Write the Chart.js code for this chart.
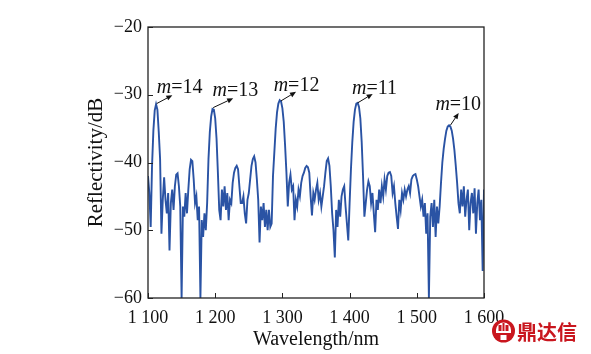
<!DOCTYPE html>
<html><head><meta charset="utf-8">
<script src="https://cdn.jsdelivr.net/npm/chart.js@4.4.0/dist/chart.umd.min.js"></script>
<style>html,body{margin:0;padding:0;background:#fff;}canvas{display:block;}</style>
</head><body>
<canvas id="c" width="591" height="354"></canvas>
<script>
// Wavelength sampling (nm)
const wavelengths = [
1100,1102,1104,1106,1108,1110,1112,1114,1116,1118,
1120,1122,1124,1126,1128,1130,1132,1134,1136,1138,
1140,1142,1144,1146,1148,1150,1152,1154,1156,1158,
1160,1162,1164,1166,1168,1170,1172,1174,1176,1178,
1180,1182,1184,1186,1188,1190,1192,1194,1196,1198,
1200,1202,1204,1206,1208,1210,1212,1214,1216,1218,
1220,1222,1224,1226,1228,1230,1232,1234,1236,1238,
1240,1242,1244,1246,1248,1250,1252,1254,1256,1258,
1260,1262,1264,1266,1268,1270,1272,1274,1276,1278,
1280,1282,1284,1286,1288,1290,1292,1294,1296,1298,
1300,1302,1304,1306,1308,1310,1312,1314,1316,1318,
1320,1322,1324,1326,1328,1330,1332,1334,1336,1338,
1340,1342,1344,1346,1348,1350,1352,1354,1356,1358,
1360,1362,1364,1366,1368,1370,1372,1374,1376,1378,
1380,1382,1384,1386,1388,1390,1392,1394,1396,1398,
1400,1402,1404,1406,1408,1410,1412,1414,1416,1418,
1420,1422,1424,1426,1428,1430,1432,1434,1436,1438,
1440,1442,1444,1446,1448,1450,1452,1454,1456,1458,
1460,1462,1464,1466,1468,1470,1472,1474,1476,1478,
1480,1482,1484,1486,1488,1490,1492,1494,1496,1498,
1500,1502,1504,1506,1508,1510,1512,1514,1516,1518,
1520,1522,1524,1526,1528,1530,1532,1534,1536,1538,
1540,1542,1544,1546,1548,1550,1552,1554,1556,1558,
1560,1562,1564,1566,1568,1570,1572,1574,1576,1578,
1580,1582,1584,1586,1588,1590,1592,1594,1596,1598,
1600];
// Reflectivity (dB)
const reflectivity = [
-42.0,-44.5,-49.5,-40.5,-35.3,-32.3,-31.4,-32.2,-35.5,-39.5,
-50.5,-45.5,-42.2,-45.5,-47.5,-44.5,-53.0,-46.0,-44.0,-47.0,
-43.5,-41.8,-41.6,-43.5,-46.5,-60.0,-46.5,-48.0,-44.5,-47.5,
-44.0,-41.0,-39.6,-39.8,-42.5,-46.0,-45.0,-48.5,-46.5,-60.0,
-48.5,-51.0,-47.5,-50.0,-46.0,-39.5,-35.5,-33.2,-32.1,-32.2,
-33.5,-36.5,-41.5,-47.0,-48.5,-44.0,-46.5,-43.5,-47.0,-44.5,
-48.5,-45.5,-46.0,-43.0,-41.5,-40.8,-40.5,-41.0,-43.5,-46.0,
-46.0,-45.0,-47.5,-49.0,-45.5,-44.5,-42.5,-40.5,-39.5,-39.1,
-40.0,-42.5,-45.5,-51.8,-46.5,-48.5,-46.0,-49.5,-47.0,-50.0,
-47.0,-49.5,-49.0,-42.0,-38.5,-35.0,-32.6,-31.3,-30.8,-31.0,
-32.0,-34.0,-37.5,-41.5,-46.5,-43.0,-41.8,-44.0,-43.5,-48.5,
-45.5,-46.5,-44.0,-45.0,-43.0,-42.0,-41.5,-40.8,-40.5,-40.7,
-41.5,-45.0,-47.8,-44.5,-45.5,-44.0,-43.0,-45.5,-44.5,-46.5,
-45.0,-43.5,-41.5,-39.8,-39.4,-40.5,-43.5,-47.5,-50.0,-54.0,
-47.0,-49.5,-45.5,-48.0,-45.0,-44.0,-43.5,-46.5,-49.0,-51.5,
-46.0,-41.0,-37.0,-34.0,-32.2,-31.3,-31.2,-31.8,-33.5,-37.0,
-42.0,-48.0,-46.0,-44.0,-42.8,-43.5,-46.0,-44.5,-47.5,-50.3,
-45.5,-47.0,-44.0,-46.0,-43.5,-45.0,-42.5,-44.0,-42.0,-41.5,
-41.4,-42.0,-44.5,-43.5,-46.0,-48.0,-49.8,-45.5,-47.0,-44.5,
-45.5,-44.0,-45.0,-44.0,-43.5,-44.5,-42.5,-42.0,-41.8,-41.7,
-42.5,-43.5,-45.0,-46.5,-45.5,-48.0,-46.0,-50.5,-47.5,-60.0,
-48.0,-46.0,-49.5,-45.5,-51.0,-46.5,-49.0,-46.5,-43.0,-40.0,
-38.0,-36.5,-35.3,-34.7,-34.5,-34.7,-35.3,-36.5,-38.2,-40.5,
-43.0,-46.0,-47.5,-44.0,-46.5,-43.5,-48.0,-45.5,-44.0,-50.0,
-46.0,-44.5,-47.5,-43.8,-50.5,-46.0,-44.0,-48.5,-45.5,-56.0,
-44.0];
const xTicks = [1100, 1200, 1300, 1400, 1500, 1600];
const yTicks = [-60, -50, -40, -30, -20];
const orderLabels = ['14', '13', '12', '11', '10'];
const orderWavelength = [1113, 1197, 1298, 1412, 1550];
const orderReflectivity = [-31.3, -31.9, -30.9, -31.2, -34.5];

const SERIF = '"Liberation Serif", "Times New Roman", serif';
const points = wavelengths.map((w, i) => ({x: w, y: reflectivity[i]}));

// label placement styles (pixels)
const arrowVec = [[15.6,-8.3],[20,-9.4],[15,-9],[15,-9],[8.3,-12.3]];
const textOff = [[0,-15.8],[-0.6,-16.7],[-7.4,-14.7],[-5.6,-14.3],[-15,-20]];

const decor = {
  id: 'decor',
  afterDatasetsDraw(chart) {
    const ctx = chart.ctx;
    const a = chart.chartArea;
    const xs = chart.scales.x, ys = chart.scales.y;
    ctx.save();
    // frame
    ctx.strokeStyle = '#222';
    ctx.lineWidth = 1.3;
    ctx.strokeRect(a.left, a.top, a.right - a.left, a.bottom - a.top);
    // inward ticks
    ctx.lineWidth = 1;
    ctx.beginPath();
    xTicks.forEach(v => { const px = Math.round(xs.getPixelForValue(v)) + 0.5; ctx.moveTo(px, a.bottom); ctx.lineTo(px, a.bottom - 5); });
    yTicks.forEach(v => { const py = Math.round(ys.getPixelForValue(v)) + 0.5; ctx.moveTo(a.left, py); ctx.lineTo(a.left + 5, py); });
    ctx.stroke();
    // order annotations
    ctx.fillStyle = '#111';
    ctx.strokeStyle = '#111';
    orderLabels.forEach((lab, i) => {
      const px = xs.getPixelForValue(orderWavelength[i]);
      const py = ys.getPixelForValue(orderReflectivity[i]);
      const ex = px + arrowVec[i][0], ey = py + arrowVec[i][1];
      const ang = Math.atan2(ey - py, ex - px);
      const hl = 6, hw = 2.6;
      const bx = ex - hl * Math.cos(ang), by = ey - hl * Math.sin(ang);
      ctx.lineWidth = 1;
      ctx.beginPath(); ctx.moveTo(px, py); ctx.lineTo(bx, by); ctx.stroke();
      ctx.beginPath();
      ctx.moveTo(ex, ey);
      ctx.lineTo(bx + hw * Math.sin(ang), by - hw * Math.cos(ang));
      ctx.lineTo(bx - hw * Math.sin(ang), by + hw * Math.cos(ang));
      ctx.closePath(); ctx.fill();
      const tx = px + textOff[i][0], ty = py + textOff[i][1];
      ctx.textBaseline = 'middle'; ctx.textAlign = 'left';
      ctx.font = 'italic 20px ' + SERIF;
      ctx.fillText('m', tx, ty);
      const mw = ctx.measureText('m').width;
      ctx.font = '20px ' + SERIF;
      ctx.fillText('=' + lab, tx + mw, ty);
    });
    // watermark
    const cx = 503.5, cy = 331;
    ctx.fillStyle = '#c9161e';
    ctx.beginPath(); ctx.arc(cx, cy, 11.5, 0, Math.PI * 2); ctx.fill();
    ctx.fillStyle = '#fff';
    ctx.beginPath(); ctx.arc(cx, cy - 1, 7.5, Math.PI, 0); ctx.fill();
    ctx.fillRect(cx - 7.5, cy - 1, 15, 3);
    ctx.fillStyle = '#c9161e';
    ctx.fillRect(cx - 5, cy - 6, 3, 6);
    ctx.fillRect(cx + 2, cy - 6, 3, 6);
    ctx.fillRect(cx - 1, cy - 8, 2, 8);
    ctx.fillStyle = '#fff';
    ctx.fillRect(cx - 3, cy + 4, 6, 5);
    ctx.fillStyle = '#c9161e';
    ctx.font = 'bold 20px "Noto Sans CJK SC", sans-serif';
    ctx.textBaseline = 'middle'; ctx.textAlign = 'left';
    ctx.fillText('鼎达信', 517, cy + 1);
    ctx.restore();
  }
};

new Chart(document.getElementById('c'), {
  type: 'line',
  data: { datasets: [{
    data: points,
    borderColor: '#2a53a4',
    borderWidth: 1.9,
    pointRadius: 0,
    tension: 0,
    fill: false
  }]},
  options: {
    responsive: false,
    animation: false,
    devicePixelRatio: 1,
    layout: { padding: { left: 0, right: 107, top: 27, bottom: 0 } },
    plugins: { legend: { display: false }, tooltip: { enabled: false } },
    scales: {
      x: {
        type: 'linear', min: 1100, max: 1600,
        afterBuildTicks: s => { s.ticks = xTicks.map(v => ({value: v})); },
        afterFit: s => { s.height = 56; },
        grid: { display: false, drawTicks: false },
        border: { display: false },
        ticks: {
          padding: 9, color: '#111', maxRotation: 0, autoSkip: false,
          font: { family: SERIF, size: 18 },
          callback: v => String(v).replace(/^(\d)(\d{3})$/, '$1 $2')
        },
        title: { display: true, text: 'Wavelength/nm', color: '#111',
          font: { family: SERIF, size: 20 }, padding: { top: 0, bottom: 2 } }
      },
      y: {
        min: -60, max: -20,
        afterBuildTicks: s => { s.ticks = yTicks.map(v => ({value: v})); },
        afterFit: s => { s.width = 148; },
        grid: { display: false, drawTicks: false },
        border: { display: false },
        ticks: {
          padding: 6, color: '#111', autoSkip: false,
          font: { family: SERIF, size: 18 },
          callback: v => (v < 0 ? '\u2212' + Math.abs(v) : String(v))
        },
        title: { display: true, text: 'Reflectivity/dB', color: '#111',
          font: { family: SERIF, size: 21 }, padding: { top: 84, bottom: 0 } }
      }
    }
  },
  plugins: [decor]
});
</script>
</body></html>
